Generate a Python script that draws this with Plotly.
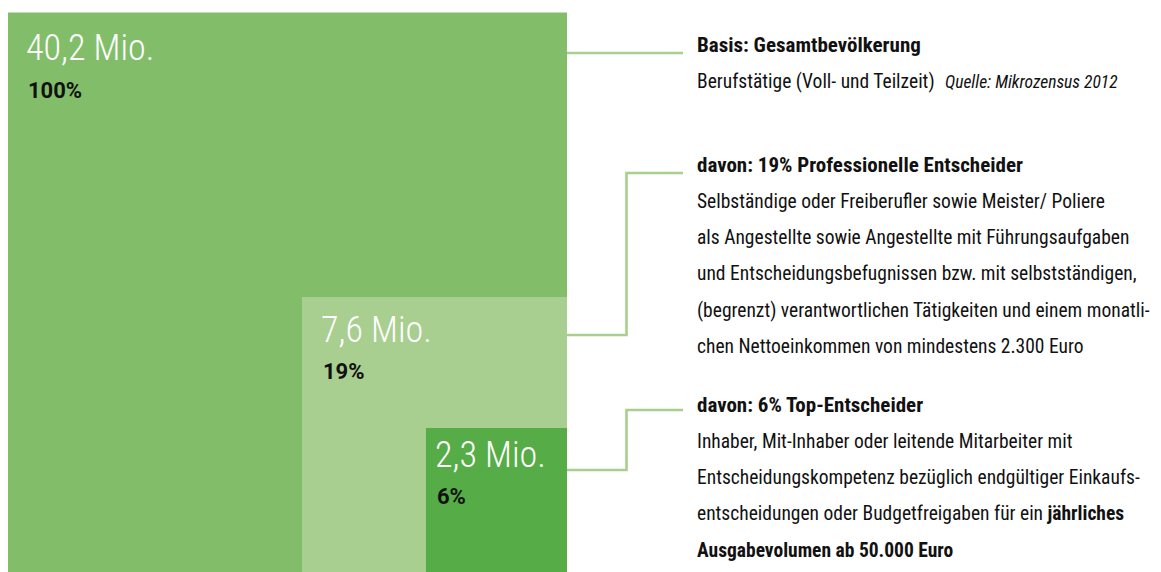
import plotly.graph_objects as go

# ---- data ----
segments = ["Gesamtbevölkerung", "Professionelle Entscheider", "Top-Entscheider"]
mio_labels = ["40,2 Mio.", "7,6 Mio.", "2,3 Mio."]
pct_labels = ["100%", "19%", "6%"]
titles = ["Basis: Gesamtbevölkerung",
          "davon: 19% Professionelle Entscheider",
          "davon: 6% Top-Entscheider"]
descriptions = [
    ["Berufstätige (Voll- und Teilzeit)"],
    ["Selbständige oder Freiberufler sowie Meister/ Poliere",
     "als Angestellte sowie Angestellte mit Führungsaufgaben",
     "und Entscheidungsbefugnissen bzw. mit selbstständigen,",
     "(begrenzt) verantwortlichen Tätigkeiten und einem monatli-",
     "chen Nettoeinkommen von mindestens 2.300 Euro"],
    ["Inhaber, Mit-Inhaber oder leitende Mitarbeiter mit",
     "Entscheidungskompetenz bezüglich endgültiger Einkaufs-",
     "entscheidungen oder Budgetfreigaben für ein <b>jährliches</b>",
     "<b>Ausgabevolumen ab 50.000 Euro</b>"],
]
source_note = "Quelle: Mikrozensus 2012"

# ---- layout constants (window pixels; page body has an 8px margin) ----
OFF = 8
W, H = 1153, 564
box_colors = ["#82BE6A", "#A8CE90", "#56AC46"]
line_color = "#A8CF8E"
boxes = [(8, 12.5, 567, 575), (302, 297, 567, 575), (426, 428, 567, 575)]
label_pos = [(24, 48, 90), (319, 330, 371), (433, 455, 496)]
title_y = [45, 165, 405]
line_step = 36.3
text_x = 695
connectors = [
    [(567, 53), (683, 53)],
    [(567, 335), (626.5, 335), (626.5, 173), (683, 173)],
    [(567, 470), (626.5, 470), (626.5, 410), (683, 410)],
]

FONT = "Roboto Condensed, Roboto, sans-serif"

fig = go.Figure()

for (x0, y0, x1, y1), c in zip(boxes, box_colors):
    fig.add_shape(type="rect", x0=x0, y0=y0, x1=x1, y1=y1, xref="x", yref="y",
                  fillcolor=c, line=dict(width=0), layer="below")

for (lx, my, py), m, p in zip(label_pos, mio_labels, pct_labels):
    fig.add_annotation(x=lx, y=my, text=m, xref="x", yref="y", xanchor="left", yanchor="middle",
                       showarrow=False, font=dict(family=FONT, size=36, color="white", weight=300))
    fig.add_annotation(x=lx + 2, y=py, text="<b>" + p + "</b>", xref="x", yref="y", xanchor="left",
                       yanchor="middle", showarrow=False,
                       font=dict(family="Roboto, sans-serif", size=22, color="#111111"))

for pts in connectors:
    xs = [p[0] for p in pts]
    ys = [p[1] for p in pts]
    fig.add_trace(go.Scatter(x=xs, y=ys, mode="lines", line=dict(color=line_color, width=2.6),
                             hoverinfo="skip", showlegend=False))

for ty, t, desc in zip(title_y, titles, descriptions):
    fig.add_annotation(x=text_x, y=ty, text="<b>" + t + "</b>", xref="x", yref="y",
                       xanchor="left", yanchor="middle", showarrow=False,
                       font=dict(family=FONT, size=21, color="#111111"))
    for i, line in enumerate(desc):
        fig.add_annotation(x=text_x, y=ty + line_step * (i + 1), text=line, xref="x", yref="y",
                           xanchor="left", yanchor="middle", showarrow=False,
                           font=dict(family=FONT, size=19.5, color="#111111"))

fig.add_annotation(x=943, y=title_y[0] + line_step + 1, text="<i>" + source_note + "</i>",
                   xref="x", yref="y", xanchor="left", yanchor="middle", showarrow=False,
                   font=dict(family=FONT, size=17.5, color="#111111"))

fig.update_layout(width=W, height=H, autosize=False, margin=dict(l=0, r=0, t=0, b=0),
                  xaxis=dict(range=[OFF, OFF + W], visible=False, fixedrange=True),
                  yaxis=dict(range=[OFF + H, OFF], visible=False, fixedrange=True),
                  plot_bgcolor="white", paper_bgcolor="white", showlegend=False)
fig.write_html("out.html", config={"displayModeBar": False})
